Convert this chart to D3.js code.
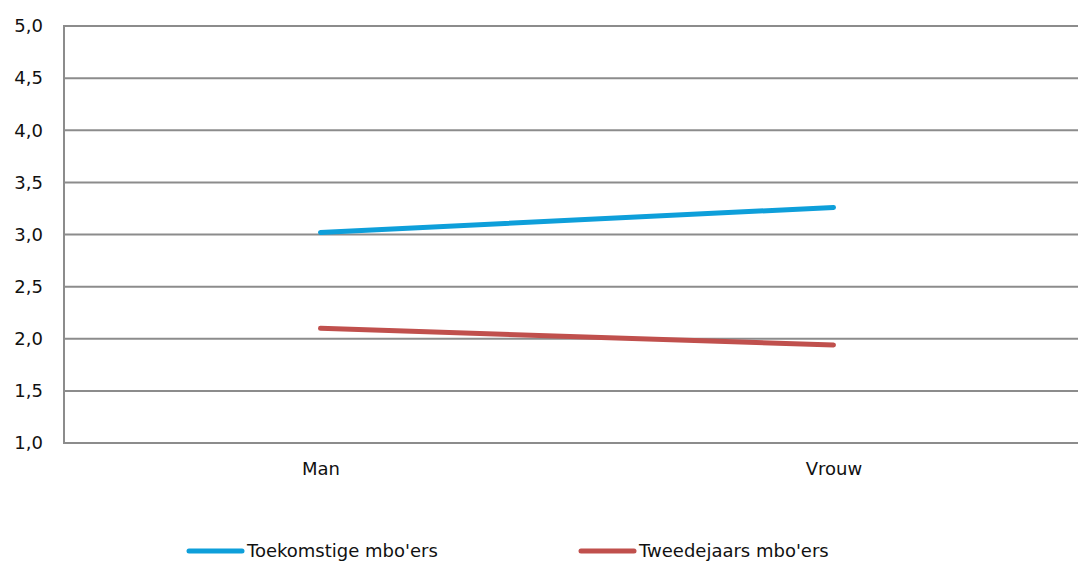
<!DOCTYPE html>
<html><head><meta charset="utf-8">
<script src="https://cdn.jsdelivr.net/npm/d3@7"></script>
<style>body{margin:0;background:#fff;}svg{display:block;font-family:"DejaVu Sans",sans-serif;}</style>
</head><body>
<svg id="c" width="1078" height="566"></svg>
<script>
const categories = ["Man", "Vrouw"];
const seriesNames = ["Toekomstige mbo'ers", "Tweedejaars mbo'ers"];
const toekomstig = [3.02, 3.26];
const tweedejaars = [2.10, 1.94];
const yTicks = [1.0, 1.5, 2.0, 2.5, 3.0, 3.5, 4.0, 4.5, 5.0];
const colors = ["#0E9FDA", "#C0504D"];

(function(){
const svg = d3.select("#c");
const pL = 64, pR = 1090, pT = 26, pB = 443;
const x = d3.scalePoint().domain(categories).range([pL, pR]).padding(0.5);
const y = d3.scaleLinear().domain([1, 5]).range([pB, pT]);
const fmt = v => v.toFixed(1).replace(".", ",");
const fs = 18;

svg.append("g").selectAll("line").data(yTicks).join("line")
  .attr("x1", pL).attr("x2", 1078)
  .attr("y1", d => y(d)).attr("y2", d => y(d))
  .attr("stroke", "#8c8c8c").attr("stroke-width", 2);
svg.append("line").attr("x1", pL).attr("x2", pL).attr("y1", pT-1).attr("y2", pB+1)
  .attr("stroke", "#8c8c8c").attr("stroke-width", 2);

const yAxis = d3.axisLeft(y).tickValues(yTicks).tickFormat(fmt).tickSize(0).tickPadding(21);
const ga = svg.append("g").attr("transform", `translate(${pL},0)`).call(yAxis);
ga.select(".domain").remove();
ga.selectAll("text").attr("font-size", fs).attr("fill", "#111").attr("font-family", "DejaVu Sans");

const xAxis = d3.axisBottom(x).tickSize(0).tickPadding(19);
const gx = svg.append("g").attr("transform", `translate(0,${pB})`).call(xAxis);
gx.select(".domain").remove();
gx.selectAll("text").attr("font-size", fs).attr("fill", "#111").attr("font-family", "DejaVu Sans");

const line = d3.line().x((d, i) => x(categories[i])).y(d => y(d));
[toekomstig, tweedejaars].forEach((s, k) => {
  svg.append("path").datum(s).attr("d", line).attr("fill", "none")
    .attr("stroke", colors[k]).attr("stroke-width", 5).attr("stroke-linecap", "round");
});

const legX = [189, 581];
seriesNames.forEach((n, k) => {
  const g = svg.append("g").attr("transform", `translate(${legX[k]},551)`);
  g.append("line").attr("x1", 0).attr("x2", 53).attr("y1", 0).attr("y2", 0)
    .attr("stroke", colors[k]).attr("stroke-width", 5).attr("stroke-linecap", "round");
  g.append("text").attr("x", 58).attr("y", 0).attr("dy", "0.35em")
    .attr("font-size", fs).attr("fill", "#111").text(n);
});
})();
</script>
</body></html>
